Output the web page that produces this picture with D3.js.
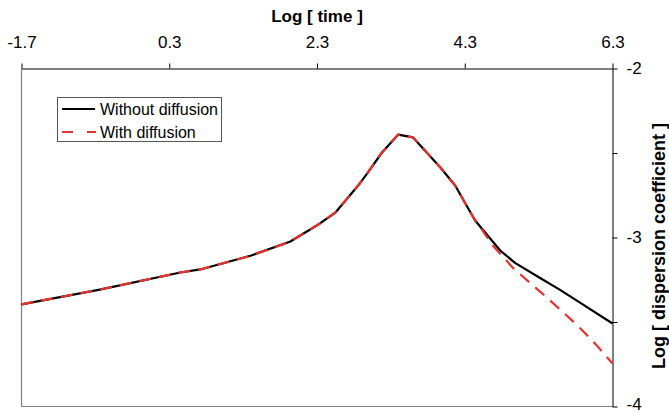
<!DOCTYPE html>
<html>
<head>
<meta charset="utf-8">
<script src="https://cdn.jsdelivr.net/npm/d3@7"></script>
<style>
  html, body { margin: 0; padding: 0; background: #fff; }
  svg { display: block; font-family: "Liberation Sans", Arial, sans-serif; }
</style>
</head>
<body>
<svg id="chart" width="669" height="414"></svg>
<script>
// ---- data ----
const xTickValues = [-1.7, 0.3, 2.3, 4.3, 6.3];
const xTickLabels = ["-1.7", "0.3", "2.3", "4.3", "6.3"];
const yTickValues = [-2, -2.5, -3, -3.5, -4];
const yTickLabels = ["-2", "", "-3", "", "-4"];

const withoutX = [-1.7, -0.64, 0.45, 0.72, 1.4, 1.94, 2.34, 2.55, 2.88, 2.99, 3.18, 3.4, 3.6, 3.97, 4.17, 4.44, 4.78, 4.98, 5.32, 5.59, 5.86, 6.3];
const withoutY = [-3.396, -3.308, -3.207, -3.189, -3.108, -3.024, -2.917, -2.852, -2.68, -2.615, -2.497, -2.391, -2.408, -2.586, -2.692, -2.899, -3.077, -3.15, -3.24, -3.31, -3.385, -3.509];

const withX = [-1.7, -0.64, 0.45, 0.72, 1.4, 1.94, 2.34, 2.55, 2.88, 2.99, 3.18, 3.4, 3.6, 3.97, 4.17, 4.4, 4.68, 4.96, 5.32, 5.59, 5.86, 6.1, 6.3];
const withY = [-3.396, -3.308, -3.207, -3.189, -3.108, -3.024, -2.917, -2.852, -2.68, -2.615, -2.497, -2.391, -2.408, -2.586, -2.692, -2.87, -3.047, -3.183, -3.32, -3.425, -3.535, -3.645, -3.746];

const seriesNames = ["Without diffusion", "With diffusion"];

// ---- drawing ----
const svg = d3.select("#chart");
const x = d3.scaleLinear().domain([-1.7, 6.3]).range([21.5, 612.5]);
const y = d3.scaleLinear().domain([-2, -4]).range([68.5, 406.5]);

// frame (left and bottom in grey)
svg.append("line").attr("x1", x(-1.7)).attr("x2", x(-1.7)).attr("y1", y(-2)).attr("y2", y(-4))
  .attr("stroke", "#808080").attr("stroke-width", 1.2);
svg.append("line").attr("x1", x(-1.7)).attr("x2", x(6.3)).attr("y1", y(-4)).attr("y2", y(-4))
  .attr("stroke", "#808080").attr("stroke-width", 1.2);

// top axis
const xAxis = d3.axisTop(x).tickValues(xTickValues)
  .tickFormat((d, i) => xTickLabels[i]).tickSize(5).tickSizeOuter(0).tickPadding(16);
const gx = svg.append("g").attr("transform", `translate(0,${y(-2)})`).call(xAxis);
gx.selectAll("text").attr("font-size", 17).attr("fill", "#000").attr("font-family", "Liberation Sans, Arial, sans-serif");
gx.selectAll("path,line").attr("stroke", "#000");

// right axis
const yAxis = d3.axisRight(y).tickValues(yTickValues)
  .tickFormat((d, i) => yTickLabels[i]).tickSize(5).tickSizeOuter(0).tickPadding(9);
const gy = svg.append("g").attr("transform", `translate(${x(6.3)},0)`).call(yAxis);
gy.selectAll("text").attr("font-size", 17).attr("fill", "#000").attr("font-family", "Liberation Sans, Arial, sans-serif")
  .attr("dy", d => d === -4 ? "0.2em" : "0.32em");
gy.selectAll("path,line").attr("stroke", "#000");

// axis titles
svg.append("text").attr("x", 317).attr("y", 22).attr("text-anchor", "middle")
  .attr("font-size", 17).attr("font-weight", "bold").text("Log [ time ]");
svg.append("text").attr("transform", "translate(665,246) rotate(-90)").attr("text-anchor", "middle")
  .attr("font-size", 18).attr("font-weight", "bold").text("Log [ dispersion coefficient ]");

// lines
const line = d3.line().x(d => x(d[0])).y(d => y(d[1]));
const withoutData = withoutX.map((v, i) => [v, withoutY[i]]);
const withData = withX.map((v, i) => [v, withY[i]]);

svg.append("path").datum(withoutData).attr("d", line)
  .attr("fill", "none").attr("stroke", "#000").attr("stroke-width", 2.2).attr("stroke-linejoin", "round");
svg.append("path").datum(withData).attr("d", line)
  .attr("fill", "none").attr("stroke", "#e8302c").attr("stroke-width", 2.2).attr("stroke-dasharray", "12,8");

// legend
const lg = svg.append("g");
lg.append("rect").attr("x", 57.5).attr("y", 97.5).attr("width", 164).attr("height", 44)
  .attr("fill", "#fff").attr("stroke", "#555").attr("stroke-width", 1);
lg.append("line").attr("x1", 62).attr("x2", 95).attr("y1", 109).attr("y2", 109)
  .attr("stroke", "#000").attr("stroke-width", 2.2);
lg.append("line").attr("x1", 62).attr("x2", 96).attr("y1", 132).attr("y2", 132)
  .attr("stroke", "#e8302c").attr("stroke-width", 2.2).attr("stroke-dasharray", "11,14");
lg.append("text").attr("x", 100).attr("y", 115).attr("font-size", 16).text(seriesNames[0]);
lg.append("text").attr("x", 100).attr("y", 138).attr("font-size", 16).text(seriesNames[1]);
</script>
</body>
</html>
